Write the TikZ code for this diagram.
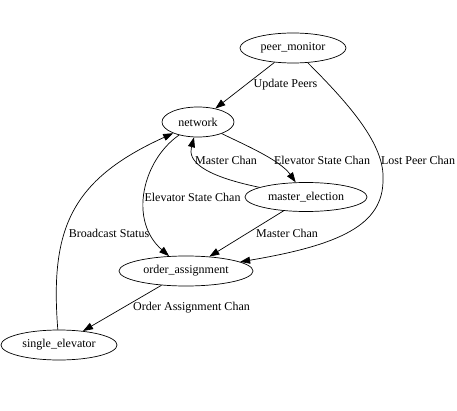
\documentclass[tikz,border=0pt]{standalone}
\usepackage{fontspec}
\setmainfont{Liberation Serif}
\usetikzlibrary{shapes.geometric,arrows.meta}
\tikzset{every picture/.append style={font=\fontsize{12}{14}\selectfont}}
\tikzset{
  proc/.style={ellipse,draw,line width=0.7pt,inner sep=0pt,minimum height=30pt},
  chan/.style={-{Triangle[length=10pt,width=7pt]},line width=0.7pt},
  lbl/.style={inner sep=0pt}
}

\begin{document}
\begin{tikzpicture}[x=1pt,y=-1pt]
    \useasboundingbox (0,0) rectangle (457,411);
    \node[proc,minimum width=106pt] (peer) at (293,48) {peer\_monitor};
    \node[proc,minimum width=72pt] (net) at (198,122) {network};
    \node[proc,minimum width=122pt,minimum height=29pt] (elect) at (306,197) {master\_election};
    \node[proc,minimum width=134pt] (order) at (186,271) {order\_assignment};
    \node[proc,minimum width=116pt] (single) at (59,345) {single\_elevator};
    \node[lbl] (lupdate) at (285.5,85) {Update Peers};
    \node[lbl] (llost) at (418,160) {Lost Peer Chan};
    \node[lbl] (lstateup) at (322,160) {Elevator State Chan};
    \node[lbl] (lmasterup) at (226,160) {Master Chan};
    \node[lbl] (lstatedown) at (192.5,197) {Elevator State Chan};
    \node[lbl] (lmasterdown) at (287,233) {Master Chan};
    \node[lbl] (lbroad) at (109,233) {Broadcast Status};
    \node[lbl] (lorder) at (191.5,308) {Order Assignment Chan};
    \draw[chan] (peer) -- (net);
    \draw[chan] (peer) .. controls (350,105) and (385,145) .. (383,180)
                       .. controls (383,225) and (340,245) .. (order);
    \draw[chan] (net) .. controls (245,145) and (280,160) .. (elect);
    \draw[chan] (elect) .. controls (200,175) and (188,160) .. (net);
    \draw[chan] (net) .. controls (143,160) and (128,220) .. (order);
    \draw[chan] (elect) -- (order);
    \draw[chan] (order) -- (single);
    \draw[chan] (single) .. controls (50,230) and (70,180) .. (net);
\end{tikzpicture}
\end{document}
